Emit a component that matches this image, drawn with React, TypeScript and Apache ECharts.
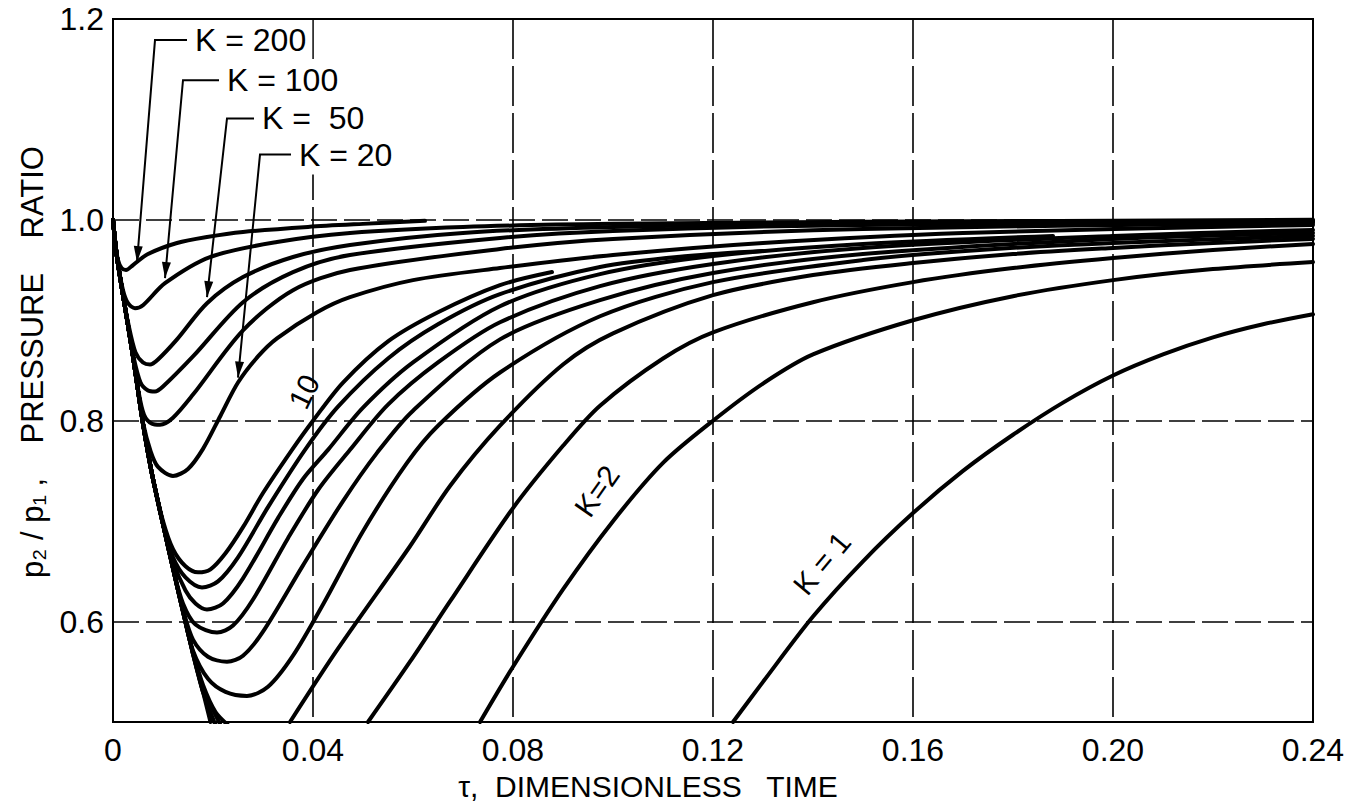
import React, { useEffect, useRef } from 'react';
import * as echarts from 'echarts';

// ---- axes ----
const xMin = 0;
const xMax = 0.24;
const xStep = 0.04;
const yMin = 0.5;
const yMax = 1.2;
const yGridValues = [0.6, 0.8, 1.0];

// ---- common initial descent (tau, p2/p1) ----
const descent: number[][] = [
  [0, 1.0], [0.0005, 0.975], [0.001, 0.956], [0.002, 0.925], [0.003, 0.895],
  [0.004, 0.864], [0.005, 0.83], [0.006, 0.797], [0.007, 0.768], [0.008, 0.742],
  [0.010, 0.697], [0.012, 0.653], [0.014, 0.610], [0.016, 0.568], [0.018, 0.530],
  [0.0195, 0.5],
];

// ---- curves (own points after leaving the common descent) ----
const k200 = [[0.001, 0.96], [0.0017, 0.952], [0.0026, 0.950], [0.004, 0.955], [0.007, 0.966], [0.0128, 0.977], [0.0188, 0.983], [0.026, 0.988], [0.039, 0.993], [0.05, 0.996], [0.0624, 0.999]];
const k100 = [[0.002, 0.93], [0.003, 0.917], [0.0044, 0.912], [0.006, 0.915], [0.0104, 0.937], [0.0194, 0.963], [0.0328, 0.978], [0.0474, 0.987], [0.07, 0.993], [0.1, 0.996], [0.15, 0.998], [0.24, 1.0]];
const k50 = [[0.003, 0.898], [0.0045, 0.868], [0.006, 0.858], [0.0074, 0.856], [0.009, 0.861], [0.0128, 0.881], [0.0188, 0.917], [0.026, 0.943], [0.036, 0.963], [0.0474, 0.975], [0.07, 0.987], [0.1, 0.993], [0.15, 0.997], [0.24, 0.999]];
const k40 = [[0.004, 0.866], [0.0055, 0.838], [0.007, 0.830], [0.0084, 0.829], [0.010, 0.834], [0.016, 0.864], [0.026, 0.918], [0.036, 0.948], [0.0474, 0.965], [0.0774, 0.982], [0.1, 0.989], [0.15, 0.995], [0.24, 0.998]];
const k30 = [[0.005, 0.832], [0.0062, 0.806], [0.0078, 0.797], [0.0094, 0.796], [0.012, 0.803], [0.016, 0.826], [0.026, 0.89], [0.036, 0.93], [0.0474, 0.95], [0.0774, 0.971], [0.1, 0.981], [0.15, 0.991], [0.24, 0.997]];
const k20 = [[0.006, 0.798], [0.0075, 0.77], [0.009, 0.754], [0.012, 0.745], [0.015, 0.752], [0.018, 0.772], [0.0215, 0.805], [0.025, 0.838], [0.029, 0.864], [0.0328, 0.882], [0.0408, 0.908], [0.0474, 0.923], [0.06, 0.94], [0.0774, 0.952], [0.1, 0.965], [0.13, 0.977], [0.17, 0.987], [0.24, 0.995]];
const k10 = [[0.0100, 0.700], [0.0120, 0.672], [0.0145, 0.655], [0.0170, 0.649], [0.0195, 0.652], [0.0225, 0.668], [0.026, 0.694], [0.030, 0.728], [0.0358, 0.771], [0.040, 0.80], [0.046, 0.838], [0.055, 0.879], [0.065, 0.908], [0.0774, 0.935], [0.0878, 0.948]];
const k9 = [[0.012, 0.664], [0.0145, 0.644], [0.0178, 0.634], [0.021, 0.640], [0.025, 0.664], [0.031, 0.714], [0.0384, 0.771], [0.045, 0.814], [0.055, 0.862], [0.065, 0.896], [0.0774, 0.926], [0.0974, 0.953], [0.115, 0.964], [0.13, 0.969]];
const k8 = [[0.012, 0.660], [0.0145, 0.631], [0.0165, 0.618], [0.0188, 0.612], [0.022, 0.618], [0.026, 0.643], [0.033, 0.703], [0.038, 0.742], [0.043, 0.771], [0.05, 0.813], [0.06, 0.858], [0.0774, 0.914], [0.0974, 0.946], [0.12, 0.964], [0.15, 0.976], [0.188, 0.984]];
const k7 = [[0.014, 0.618], [0.0165, 0.597], [0.0208, 0.589], [0.024, 0.596], [0.028, 0.622], [0.035, 0.683], [0.041, 0.731], [0.0474, 0.771], [0.055, 0.816], [0.065, 0.858], [0.0774, 0.898], [0.0974, 0.934], [0.12, 0.956], [0.15, 0.972], [0.2, 0.984], [0.24, 0.99]];
const k6 = [[0.014, 0.612], [0.016, 0.582], [0.019, 0.565], [0.0228, 0.560], [0.026, 0.566], [0.030, 0.59], [0.038, 0.656], [0.046, 0.72], [0.0528, 0.768], [0.06, 0.81], [0.0774, 0.881], [0.0974, 0.92], [0.12, 0.947], [0.15, 0.966], [0.2, 0.981], [0.24, 0.987]];
const k5 = [[0.016, 0.571], [0.019, 0.543], [0.0225, 0.530], [0.0268, 0.526], [0.031, 0.535], [0.036, 0.566], [0.042, 0.617], [0.05, 0.69], [0.0588, 0.758], [0.065, 0.795], [0.0774, 0.848], [0.0974, 0.904], [0.12, 0.938], [0.15, 0.96], [0.1734, 0.97], [0.2, 0.977], [0.24, 0.984]];
const k4Down = [[0.016, 0.57], [0.018, 0.537], [0.0205, 0.51], [0.023, 0.497]];
const k4Up = [[0.0354, 0.5], [0.045, 0.573], [0.0594, 0.675], [0.0674, 0.735], [0.0774, 0.795], [0.09, 0.856], [0.1, 0.887], [0.12, 0.925], [0.14, 0.945], [0.16, 0.957], [0.18, 0.966], [0.2, 0.972], [0.22, 0.977], [0.24, 0.981]];
const k3Down = [[0.018, 0.532], [0.0215, 0.497]];
const k3Up = [[0.051, 0.5], [0.0594, 0.56], [0.0674, 0.62], [0.08, 0.713], [0.09, 0.775], [0.0974, 0.815], [0.11, 0.862], [0.12, 0.888], [0.14, 0.918], [0.16, 0.938], [0.18, 0.952], [0.2, 0.962], [0.22, 0.97], [0.24, 0.976]];
const k2Down = [[0.0205, 0.497]];
const k2Up = [[0.0734, 0.5], [0.08, 0.555], [0.09, 0.632], [0.10, 0.70], [0.11, 0.758], [0.12, 0.80], [0.13, 0.837], [0.14, 0.866], [0.16, 0.9], [0.18, 0.924], [0.2, 0.94], [0.22, 0.951], [0.24, 0.958]];
const k1Up = [[0.124, 0.5], [0.13, 0.54], [0.14, 0.605], [0.15, 0.66], [0.16, 0.708], [0.17, 0.75], [0.18, 0.786], [0.19, 0.818], [0.20, 0.845], [0.21, 0.866], [0.22, 0.883], [0.23, 0.896], [0.24, 0.906]];

// how many points of the common descent each curve shares
const curveDefs: { name: string; shared: number; own: number[][] }[] = [
  { name: 'K=200', shared: 2, own: k200 },
  { name: 'K=100', shared: 3, own: k100 },
  { name: 'K=50', shared: 4, own: k50 },
  { name: 'K=40', shared: 5, own: k40 },
  { name: 'K=30', shared: 6, own: k30 },
  { name: 'K=20', shared: 7, own: k20 },
  { name: 'K=10', shared: 10, own: k10 },
  { name: 'K=9', shared: 11, own: k9 },
  { name: 'K=8', shared: 11, own: k8 },
  { name: 'K=7', shared: 12, own: k7 },
  { name: 'K=6', shared: 12, own: k6 },
  { name: 'K=5', shared: 13, own: k5 },
  { name: 'K=4 fall', shared: 14, own: k4Down },
  { name: 'K=4 rise', shared: 0, own: k4Up },
  { name: 'K=3 fall', shared: 15, own: k3Down },
  { name: 'K=3 rise', shared: 0, own: k3Up },
  { name: 'K=2 fall', shared: 15, own: k2Down },
  { name: 'K=2 rise', shared: 0, own: k2Up },
  { name: 'K=1 fall', shared: 16, own: [] },
  { name: 'K=1 rise', shared: 0, own: k1Up },
];

// ---- annotations (data coordinates) ----
const arrowLabels = [
  { text: 'K = 200', elbow: [0.0084, 1.179], textAt: [0.016, 1.179], tip: [0.0048, 0.958] },
  { text: 'K = 100', elbow: [0.014, 1.139], textAt: [0.0224, 1.139], tip: [0.0104, 0.942] },
  { text: 'K =  50', elbow: [0.0228, 1.101], textAt: [0.0294, 1.101], tip: [0.0188, 0.923] },
  { text: 'K = 20', elbow: [0.0294, 1.065], textAt: [0.0368, 1.065], tip: [0.025, 0.843] },
];
const curveLabels = [
  { text: '10', at: [0.0382, 0.829], angle: 64 },
  { text: 'K=2', at: [0.0968, 0.73], angle: 55 },
  { text: 'K = 1', at: [0.1418, 0.658], angle: 50 },
];

const FONT = '"Liberation Sans", "DejaVu Sans", Arial, sans-serif';

export default function App() {
  const ref = useRef<HTMLDivElement>(null);
  useEffect(() => {
    document.body.style.margin = '0';
    const chart = echarts.init(ref.current!, null, { renderer: 'svg' });
    const series: any[] = curveDefs.map((c) => ({
      type: 'line',
      name: c.name,
      data: [...descent.slice(0, c.shared), ...c.own],
      showSymbol: false,
      symbol: 'none',
      smooth: 0.3,
      clip: true,
      z: 3,
      lineStyle: { color: '#000', width: 4, cap: 'round', join: 'round' },
      silent: true,
    }));
    series.push({
      type: 'line',
      name: 'grid',
      data: [],
      z: 1,
      silent: true,
      markLine: {
        silent: true,
        symbol: 'none',
        label: { show: false },
        animation: false,
        lineStyle: { color: '#000', width: 1.6, type: [26, 7] },
        data: yGridValues.map((v) => ({ yAxis: v })),
      },
    });
    chart.setOption({
      animation: false,
      backgroundColor: '#fff',
      grid: { left: 113, right: 48, top: 19, bottom: 85, show: true, borderColor: '#000', borderWidth: 2, backgroundColor: 'transparent' },
      xAxis: {
        type: 'value', min: xMin, max: xMax, interval: xStep,
        axisLine: { show: true, lineStyle: { color: '#000', width: 2 } },
        axisTick: { show: false },
        axisLabel: {
          color: '#000', fontSize: 32, fontFamily: FONT, margin: 12,
          formatter: (v: number) => (v === 0 ? '0' : v.toFixed(2)),
        },
        splitLine: { show: true, lineStyle: { color: '#000', width: 1.6, type: [40, 7] } },
      },
      yAxis: {
        type: 'value', min: yMin, max: yMax, interval: 0.1,
        axisLine: { show: true, lineStyle: { color: '#000', width: 2 } },
        axisTick: { show: false },
        axisLabel: {
          color: '#000', fontSize: 32, fontFamily: FONT, margin: 9,
          formatter: (v: number) => (Math.round(v * 10) % 2 === 0 && v > yMin + 0.05 ? v.toFixed(1) : ''),
        },
        splitLine: { show: false },
      },
      series,
    });

    const px = (p: number[]) => chart.convertToPixel({ xAxisIndex: 0, yAxisIndex: 0 }, p) as number[];
    const graphics: any[] = [];
    arrowLabels.forEach((a) => {
      const e = px(a.elbow);
      const t = px(a.textAt);
      const tip = px(a.tip);
      graphics.push({
        type: 'polyline', z: 20, silent: true,
        shape: { points: [[t[0] - 6, e[1]], e, tip] },
        style: { stroke: '#000', lineWidth: 2, fill: null },
      });
      const dx = tip[0] - e[0];
      const dy = tip[1] - e[1];
      const len = Math.hypot(dx, dy);
      const ux = dx / len, uy = dy / len;
      const L = 16, W = 4.5;
      const bx = tip[0] - ux * L, by = tip[1] - uy * L;
      graphics.push({
        type: 'polygon', z: 21, silent: true,
        shape: { points: [tip, [bx - uy * W, by + ux * W], [bx + uy * W, by - ux * W]] },
        style: { fill: '#000' },
      });
      graphics.push({
        type: 'text', z: 22, silent: true, x: t[0], y: t[1],
        style: {
          text: a.text, font: `32px ${FONT}`, fill: '#000', align: 'left', verticalAlign: 'middle',
          backgroundColor: '#fff', padding: [4, 6, 4, 2],
        },
      });
    });
    curveLabels.forEach((c) => {
      const p = px(c.at);
      graphics.push({
        type: 'text', z: 22, silent: true, x: p[0], y: p[1], rotation: (c.angle * Math.PI) / 180,
        style: { text: c.text, font: `30px ${FONT}`, fill: '#000', align: 'center', verticalAlign: 'middle' },
      });
    });
    graphics.push({
      type: 'text', z: 22, silent: true, x: 648, y: 786,
      style: { text: 'τ,  DIMENSIONLESS   TIME', font: `30px ${FONT}`, fill: '#000', align: 'center', verticalAlign: 'middle' },
    });
    graphics.push({
      type: 'text', z: 22, silent: true, x: 32, y: 362, rotation: Math.PI / 2,
      style: { text: 'p₂ / p₁ ,    PRESSURE    RATIO', font: `31px ${FONT}`, fill: '#000', align: 'center', verticalAlign: 'middle' },
    });
    chart.setOption({ graphic: graphics });

    return () => chart.dispose();
  }, []);
  return <div ref={ref} style={{ position: 'fixed', left: 0, top: 0, width: 1361, height: 807, background: '#fff' }} />;
}
